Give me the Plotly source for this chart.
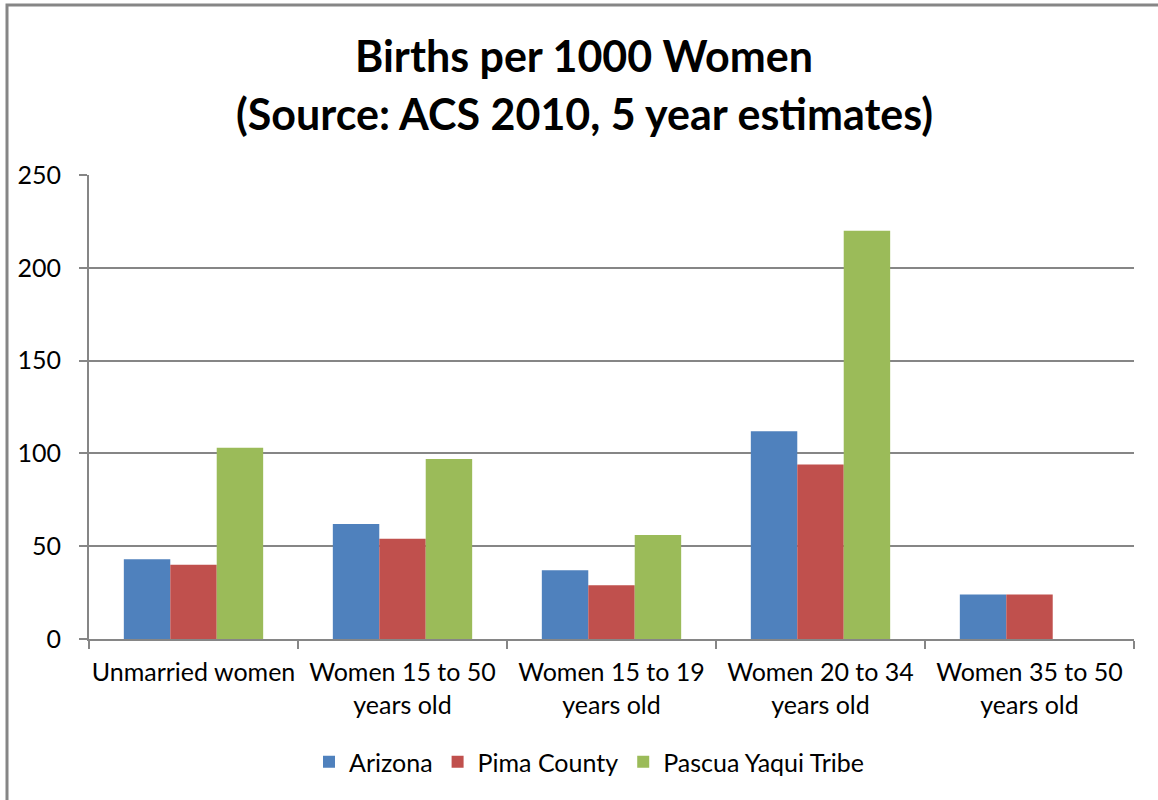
import plotly.graph_objects as go

categories = ["Unmarried women", "Women 15 to 50<br>years old", "Women 15 to 19<br>years old",
              "Women 20 to 34<br>years old", "Women 35 to 50<br>years old"]
arizona = [43, 62, 37, 112, 24]
pima = [40, 54, 29, 94, 24]
pascua = [103, 97, 56, 220, None]
series_names = ["Arizona", "Pima County", "Pascua Yaqui Tribe"]
colors = ["#4F81BD", "#C0504D", "#9BBB59"]
y_ticks = [0, 50, 100, 150, 200, 250]
title_lines = ["Births per 1000 Women", "(Source: ACS 2010, 5 year estimates)"]

FONT = "Lato"
W, H = 1158, 800
L, R, T, B = 89, 24, 175, 161
pw, ph = W - L - R, H - T - B

fig = go.Figure()
for name, vals, c in zip(series_names, [arizona, pima, pascua], colors):
    fig.add_trace(go.Bar(name=name, x=categories, y=vals, marker=dict(color=c, line=dict(width=0))))

def px_x(p):
    return (p - L) / pw

def px_y(p):
    return (H - B - p) / ph

fig.update_layout(
    width=W, height=H,
    margin=dict(l=L, r=R, t=T, b=B),
    paper_bgcolor="white", plot_bgcolor="white",
    barmode="group", bargap=1/3, bargroupgap=0,
    font=dict(family=FONT, size=25, color="black"),
    showlegend=True,
    legend=dict(orientation="h", x=px_x(589), xanchor="center", y=px_y(762), yanchor="middle",
                font=dict(size=25), traceorder="normal"),
    xaxis=dict(showline=True, linecolor="#868686", linewidth=2, ticks="outside", ticklen=8,
               tickcolor="#868686", tickwidth=2, tickson="boundaries", showgrid=False,
               tickangle=0, tickfont=dict(size=25), ticklabelstandoff=10),
    yaxis=dict(range=[0, 250], tickvals=y_ticks, showline=True, linecolor="#868686", linewidth=2,
               ticks="outside", ticklen=8, tickcolor="#868686", tickwidth=2,
               showgrid=True, gridcolor="#868686", gridwidth=2, zeroline=False,
               tickfont=dict(size=25), ticklabelstandoff=13),
    shapes=[dict(type="rect", xref="paper", yref="paper", x0=px_x(7), x1=px_x(1200),
                 y0=px_y(850), y1=px_y(5), line=dict(color="#868686", width=3), layer="below")],
    annotations=[
        dict(text="<b>" + title_lines[0] + "</b>", xref="paper", yref="paper", x=px_x(584), y=px_y(55),
             xanchor="center", yanchor="middle", showarrow=False, font=dict(size=43)),
        dict(text="<b>" + title_lines[1] + "</b>", xref="paper", yref="paper", x=px_x(584), y=px_y(113),
             xanchor="center", yanchor="middle", showarrow=False, font=dict(size=43)),
    ],
)
fig.write_html("out.html", config={"displayModeBar": False},
               post_script="document.body.style.margin='0';")
